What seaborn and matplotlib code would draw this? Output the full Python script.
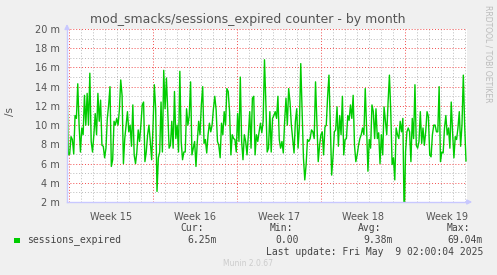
import numpy as np
import pandas as pd
import matplotlib
matplotlib.use("Agg")
import matplotlib.pyplot as plt
import matplotlib.dates as mdates
from matplotlib.ticker import FixedLocator, MultipleLocator, NullFormatter
from matplotlib.patches import Rectangle
import seaborn as sns

# ---------------- data ----------------
title = "mod_smacks/sessions_expired counter - by month"
series_name = "sessions_expired"
y_label = "/s"

values = [
    14.0, 6.9, 7.0, 8.8, 8.5, 7.0, 11.0, 10.7, 14.3, 10.0, 7.2, 9.7, 9.0, 13.1, 10.0, 13.3,
    10.0, 15.4, 8.3, 7.2, 9.0, 11.2, 9.0, 13.3, 10.4, 12.6, 7.9, 7.8, 6.6, 7.6, 10.7, 12.1,
    14.0, 5.7, 6.4, 10.4, 10.0, 10.7, 10.0, 11.6, 14.7, 13.1, 6.0, 8.6, 10.0, 11.4, 9.3, 10.0,
    7.8, 12.1, 6.9, 6.0, 7.2, 9.5, 8.3, 10.0, 12.1,
    12.4, 6.2, 7.2, 9.0, 10.0, 8.3, 6.4, 9.7, 14.2, 11.7, 3.1, 6.6, 7.2, 12.4, 7.2, 15.7,
    11.7, 14.9, 11.4, 7.6, 7.9, 10.4, 7.6, 13.5, 8.6, 10.0, 7.2, 15.6, 8.3, 6.4, 7.2, 7.2,
    11.7, 10.0, 11.0, 14.5, 6.9, 7.6, 8.3, 5.7, 8.3, 10.4, 9.0, 12.1, 14.0, 8.1, 8.5, 7.1,
    9.0, 10.2, 9.3, 10.0, 11.7, 13.0, 11.6, 8.3, 7.9, 6.6, 10.2, 9.0, 11.4,
    10.0, 13.8, 13.5, 11.4, 6.9, 9.0, 8.6, 8.5, 7.2, 11.2, 8.3, 15.0, 8.3, 6.4, 9.0, 8.3,
    6.9, 9.0, 11.4, 7.6, 12.8, 13.0, 6.9, 9.0, 8.3, 9.3, 10.2, 9.2, 10.4, 16.8, 12.4, 7.2,
    7.6, 11.4, 7.2, 10.7, 11.0, 11.4, 10.7, 13.0, 8.5, 7.6, 8.3, 7.1, 10.4, 12.8, 10.0, 13.8,
    12.4, 10.0, 8.5, 7.1, 10.4, 11.7, 7.6, 10.0, 16.4, 11.4, 6.6, 4.3, 5.9, 8.5, 8.3, 8.6, 9.5,
    9.3, 8.6, 14.5, 10.5, 6.2, 7.9, 9.0, 9.3, 6.9, 9.8, 10.0, 13.0, 15.2, 10.0, 4.8, 6.7,
    9.3, 9.5, 11.9, 7.8, 11.0, 9.0, 13.0, 6.9, 8.5, 8.6, 11.0, 10.5, 12.1, 10.7, 13.1, 7.9,
    6.2, 6.9, 7.9, 8.6, 9.0, 9.7, 9.0, 13.8, 9.7, 5.2, 8.5, 7.6, 12.1, 11.4, 8.6, 11.7,
    8.6, 9.2, 6.0, 9.0, 6.9, 11.9, 10.4, 9.0, 12.4, 15.2, 11.4, 5.9, 6.6, 4.3, 9.7, 9.0, 8.6,
    10.4, 9.3, 10.7, 0.0, 7.2, 9.3, 9.7, 9.3, 6.2, 10.7, 8.6, 14.2, 7.9, 7.6, 8.3, 11.4,
    8.1, 9.7, 7.9, 9.3, 11.4, 10.9, 6.9, 6.7, 9.0, 10.0, 10.0, 9.3, 9.3, 14.0, 6.2, 7.2,
    7.1, 9.7, 11.0, 9.0, 9.7, 7.6, 12.4, 9.3, 6.6, 8.8, 8.5, 9.7, 11.4, 7.8, 10.0, 15.2,
    10.0, 6.25,
]

y_ticks = [2, 4, 6, 8, 10, 12, 14, 16, 18, 20]
y_tick_labels = [f"{v} m" for v in y_ticks]
week_labels = ["Week 15", "Week 16", "Week 17", "Week 18", "Week 19"]
week_starts = ["2025-04-06", "2025-04-13", "2025-04-20", "2025-04-27", "2025-05-04"]
stat_headers = ["Cur:", "Min:", "Avg:", "Max:"]
stat_values = ["6.25m", "0.00", "9.38m", "69.04m"]
last_update = "Last update: Fri May  9 02:00:04 2025"
footer = "Munin 2.0.67"
side_text = "RRDTOOL / TOBI OETIKER"

start = pd.Timestamp("2025-04-05 20:36")
span_hours = 800
data_hours = 798

# ---------------- figure ----------------
sns.set_style("white")
plt.rcParams['font.family'] = ['DejaVu Sans']

fig = plt.figure(figsize=(4.97, 2.75), dpi=100, facecolor="#F0F0F0")
W, H = 497, 275
ax = fig.add_axes([67 / W, 1 - 202 / H, 400 / W, 173 / H])
ax.set_facecolor("white")

times = pd.date_range(start, start + pd.Timedelta(hours=data_hours), periods=len(values))
df = pd.DataFrame({"time": times, "value": values})
sns.lineplot(data=df, x="time", y="value", ax=ax, color="#00CC00", linewidth=1.0)

ax.set_xlim(start, start + pd.Timedelta(hours=span_hours))
ax.set_ylim(y_ticks[0], y_ticks[-1])

# grid
ax.xaxis.set_major_locator(mdates.WeekdayLocator(byweekday=mdates.SU))
ax.xaxis.set_minor_locator(mdates.DayLocator())
ax.xaxis.set_major_formatter(NullFormatter())
ax.yaxis.set_major_locator(FixedLocator(y_ticks))
ax.set_yticklabels(y_tick_labels)
ax.yaxis.set_minor_locator(MultipleLocator(1))

ax.grid(which="minor", color="#BBBBBB", linestyle=(0, (1, 2)), linewidth=0.7)
ax.grid(which="major", color=(0.95, 0.3, 0.3, 0.6), linestyle=(0, (1, 2)), linewidth=0.7)
ax.set_axisbelow(True)

ax.tick_params(axis="both", which="major", color=(0.95, 0.3, 0.3, 0.8), length=4,
               direction="inout", width=0.7)
ax.tick_params(axis="both", which="minor", color="#AAAAAA", length=3,
               direction="inout", width=0.7)
ax.tick_params(axis="y", labelsize=7, labelcolor="#555555", pad=3)
ax.tick_params(axis="x", labelbottom=False)
ax.set_xlabel("")
ax.set_ylabel("")

for s in ["top", "right"]:
    ax.spines[s].set_visible(False)
for s in ["left", "bottom"]:
    ax.spines[s].set_color("#C8C8FF")
    ax.spines[s].set_linewidth(1.0)

# axis arrows
ax.annotate("", xy=(0, 1.045), xytext=(0, 0.99), xycoords="axes fraction",
            arrowprops=dict(arrowstyle="-|>", color="#C8C8FF", lw=1, mutation_scale=7),
            annotation_clip=False)
ax.annotate("", xy=(1.02, 0), xytext=(0.99, 0), xycoords="axes fraction",
            arrowprops=dict(arrowstyle="-|>", color="#C8C8FF", lw=1, mutation_scale=7),
            annotation_clip=False)

# week labels centred in each week
trans = ax.get_xaxis_transform()
for ws, lab in zip(week_starts, week_labels):
    mid = pd.Timestamp(ws) + pd.Timedelta(hours=84)
    ax.text(mdates.date2num(mid), -0.06, lab, transform=trans, ha="center", va="top",
            fontsize=7, color="#555555", clip_on=False)

# texts
fig.text(248 / W, 1 - 19.5 / H, title, ha="center", va="center", fontsize=9, color="#555555")
fig.text(10 / W, 1 - 112 / H, y_label, ha="center", va="center", rotation=90,
         fontsize=7.5, color="#555555")
fig.text(488 / W, 1 - 5 / H, side_text, ha="center", va="top", rotation=270,
         fontsize=5.5, color="#BBBBBB")

mono = "DejaVu Sans Mono"
fig.patches.append(Rectangle((14 / W, 1 - 243 / H), 5.5 / W, 5 / H, transform=fig.transFigure,
                             facecolor="#00CC00", edgecolor="none"))
fig.text(27 / W, 1 - 240 / H, series_name, ha="left", va="center", fontsize=7,
         family=mono, color="#444444")
hdr_right = [204, 293, 381, 470]
val_right = [217, 299, 393, 483]
for h, xr in zip(stat_headers, hdr_right):
    fig.text(xr / W, 1 - 228 / H, h, ha="right", va="center", fontsize=7, family=mono,
             color="#444444")
for v, xr in zip(stat_values, val_right):
    fig.text(xr / W, 1 - 240 / H, v, ha="right", va="center", fontsize=7, family=mono,
             color="#444444")
fig.text(483 / W, 1 - 252 / H, last_update, ha="right", va="center", fontsize=7,
         family=mono, color="#444444")
fig.text(248 / W, 1 - 264 / H, footer, ha="center", va="center", fontsize=5.5,
         color="#CCCCCC")

fig.savefig("out.png", dpi=100, facecolor=fig.get_facecolor())
